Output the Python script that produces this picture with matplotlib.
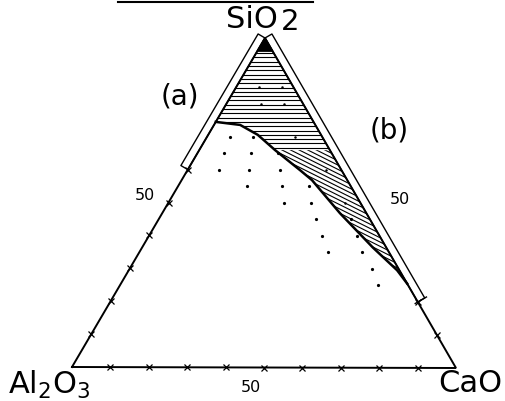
import numpy as np
import matplotlib.pyplot as plt
from matplotlib.patches import Polygon
from matplotlib.collections import LineCollection

# compositions in %, (SiO2, CaO); Al2O3 makes up the rest
curve_sio2 = [74.5, 73.6, 70.6, 66.0, 59.9, 56.9, 46.9, 36.5, 29.6, 25.6]
curve_cao = [0.0, 6.8, 12.9, 19.7, 29.3, 33.9, 46.2, 60.0, 69.8, 74.4]

dot_sio2 = [70, 70, 65, 65, 65, 60, 60, 60, 55, 55, 55, 50, 50,
            45, 45, 40, 40, 35, 35, 30, 25]
dot_cao = [6, 12, 7, 14, 21, 8, 16, 24, 18, 27, 34, 30, 37,
           41, 50, 45, 54, 49, 58, 63, 67]

# faint points inside the hatched field
hatch_dot_sio2 = [85, 85, 80, 80, 70, 60, 50]
hatch_dot_cao = [6, 12, 9, 15, 23, 36, 46]

bar_a = (60, 100)   # SiO2 range on the Al2O3-SiO2 join
bar_b = (20, 100)   # SiO2 range on the CaO-SiO2 join
tick_pct = [10, 20, 30, 40, 50, 60, 70, 80, 90]
split_sio2 = 66.0   # hatch changes direction here

# corners of the diagram on the canvas (pixels)
A = np.array([72.0, 367.0])   # Al2O3
C = np.array([456.0, 368.0])  # CaO
S = np.array([265.0, 38.0])   # SiO2


def to_xy(si, ca):
    si = np.asarray(si, float) / 100
    ca = np.asarray(ca, float) / 100
    al = 1 - si - ca
    x = al * A[0] + ca * C[0] + si * S[0]
    y = al * A[1] + ca * C[1] + si * S[1]
    return x, y


fig = plt.figure(figsize=(5.05, 4.01), dpi=100)
ax = fig.add_axes([0, 0, 1, 1])
ax.set_xlim(0, 505)
ax.set_ylim(401, 0)
ax.axis('off')

# triangle
tx, ty = to_xy([0, 0, 100, 0], [0, 100, 0, 0])
ax.plot(tx, ty, 'k-', lw=1.4, solid_joinstyle='miter')

# ticks (hidden where the bars run along a side)
for k in tick_pct:
    marks = [(0, k)]
    if k <= bar_a[0]:
        marks.append((k, 0))
    if k <= bar_b[0]:
        marks.append((k, 100 - k))
    for si, ca in marks:
        x, y = to_xy(si, ca)
        ax.plot(x, y, 'kx', ms=4.5, mew=0.9)

# hatched field, split in two parts
cs = np.array(curve_sio2)
cc = np.array(curve_cao)
up = cs >= split_sio2
upper_si = list(cs[up]) + [split_sio2, 100]
upper_ca = list(cc[up]) + [100 - split_sio2, 0]
lower_si = [cs[up][-1]] + list(cs[~up]) + [split_sio2]
lower_ca = [cc[up][-1]] + list(cc[~up]) + [100 - split_sio2]

ux, uy = to_xy(upper_si, upper_ca)
lx, ly = to_xy(lower_si, lower_ca)
p_up = Polygon(np.column_stack([ux, uy]), closed=True, fc='none', ec='none')
p_lo = Polygon(np.column_stack([lx, ly]), closed=True, fc='none', ec='none')
ax.add_patch(p_up)
ax.add_patch(p_lo)

segs = [[(150, y), (460, y)] for y in np.arange(36, 160, 4.3)]
hl = LineCollection(segs, colors='k', linewidths=0.8)
ax.add_collection(hl)
hl.set_clip_path(p_up)

segs = [[(200, y), (460, y + 0.5 * 260)] for y in np.arange(-20, 300, 4.3)]
dl = LineCollection(segs, colors='k', linewidths=0.8)
ax.add_collection(dl)
dl.set_clip_path(p_lo)

# dark tip near the apex
tip_x, tip_y = to_xy([100, 96, 96], [0, 0, 4])
ax.fill(tip_x, tip_y, color='k')

# boundary curve
bx, by = to_xy(curve_sio2, curve_cao)
ax.plot(bx, by, 'k-', lw=1.8)

# composition points
x, y = to_xy(dot_sio2, dot_cao)
ax.plot(x, y, 'o', color='k', ms=2.3, mew=0)
x, y = to_xy(hatch_dot_sio2, hatch_dot_cao)
ax.plot(x, y, 'o', color='k', ms=1.8, mew=0)


# bars along the joins
def side_bar(p_lo, p_hi, normal, width=8.0):
    n = np.array(normal) * width
    pts = np.array([p_lo, p_hi, p_hi + n, p_lo + n, p_lo])
    ax.plot(pts[:, 0], pts[:, 1], 'k-', lw=1.0)


d = (S - A) / np.linalg.norm(S - A)
na = np.array([d[1], -d[0]])
p1 = np.array(to_xy(bar_a[0], 0))
p2 = np.array(to_xy(bar_a[1], 0))
side_bar(p1, p2, na)

d = (C - S) / np.linalg.norm(C - S)
nb = np.array([-d[1], d[0]])
nb = -nb if nb[0] < 0 else nb
p1 = np.array(to_xy(bar_b[0], 100 - bar_b[0]))
p2 = np.array(to_xy(bar_b[1], 100 - bar_b[1]))
side_bar(p1, p2, nb)
ax.plot([p1[0] - nb[0] * 3, p1[0] + nb[0] * 10],
        [p1[1] - nb[1] * 3, p1[1] + nb[1] * 10], 'k-', lw=1.0)

# labels
ax.text(252, 19, 'SiO', fontsize=22, ha='center', va='center')
ax.text(290, 22, '2', fontsize=21, ha='center', va='center')
ax.text(49, 385, r'Al$_2$O$_3$', fontsize=22, ha='center', va='center')
ax.text(470, 384, 'CaO', fontsize=22, ha='center', va='center')
ax.text(180, 96, '(a)', fontsize=20, ha='center', va='center')
ax.text(389, 130, '(b)', fontsize=20, ha='center', va='center')
ax.text(145, 196, '50', fontsize=11.5, ha='center', va='center')
ax.text(400, 200, '50', fontsize=11.5, ha='center', va='center')
ax.text(251, 388, '50', fontsize=11.5, ha='center', va='center')

# remnant rule at the top edge
ax.plot([118, 313], [2, 2], 'k-', lw=1.5)

fig.savefig('out.png', dpi=100)
